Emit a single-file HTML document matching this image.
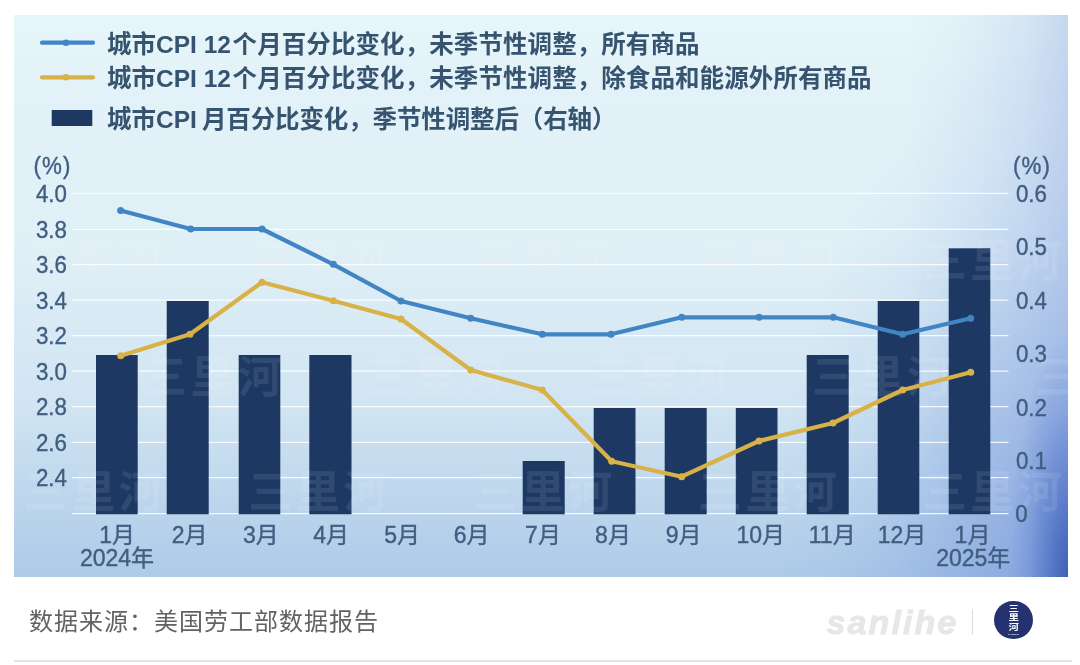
<!DOCTYPE html>
<html lang="zh-CN">
<head>
<meta charset="utf-8">
<title>城市CPI</title>
<style>
html,body{margin:0;padding:0;background:#fff;}
body{width:1080px;height:665px;overflow:hidden;position:relative;font-family:"Liberation Sans", "Noto Sans CJK SC", sans-serif;}
#panel{position:absolute;left:13.5px;top:15px;width:1054.5px;height:561.8px;
background:
 radial-gradient(ellipse 58px 240px at 100% 100%, rgba(58,90,180,0.92) 0%, rgba(66,100,190,0.6) 35%, rgba(80,118,203,0.25) 70%, rgba(90,128,210,0) 100%),
 radial-gradient(ellipse 290px 540px at 100% 100%, rgba(100,135,215,0.55) 0%, rgba(102,138,216,0.45) 20%, rgba(106,142,217,0.32) 40%, rgba(112,150,220,0.18) 60%, rgba(122,158,224,0.07) 80%, rgba(130,165,225,0) 100%),
 linear-gradient(to right, rgba(165,185,230,0) 0%, rgba(165,185,230,0) 85%, rgba(165,185,230,0.1) 91%, rgba(165,185,230,0.27) 96%, rgba(165,185,230,0.5) 100%),
 linear-gradient(to bottom, #e6f6f9 0%, #e2f2f8 12%, #e0f0f7 40%, #d0e4f2 70%, #adcae8 100%);}
svg{position:absolute;left:0;top:0;}
text{font-family:"Liberation Sans", "Noto Sans CJK SC", sans-serif;text-spacing-trim:space-all;}
.ax{font-size:23.6px;fill:#415e80;stroke:#415e80;stroke-width:0.4px;transform-box:fill-box;transform-origin:50% 50%;transform:scaleX(0.945);}
.xl{font-size:23px;transform:none;}
.lg{font-size:24.5px;font-weight:700;fill:#36546f;}
.wm{font-size:44px;font-weight:700;fill:#fff;fill-opacity:0.095;letter-spacing:3.5px;}
#src{position:absolute;left:29px;top:604px;font-size:24px;letter-spacing:1px;color:#626262;line-height:36px;white-space:nowrap;}
#brand{position:absolute;left:826.5px;top:603px;font-size:34px;line-height:38px;font-weight:700;font-style:italic;color:#e7e7e7;-webkit-text-stroke:0.9px #e7e7e7;letter-spacing:2.1px;white-space:nowrap;}
#sep{position:absolute;left:972px;top:609px;width:1px;height:26px;background:#dcdcdc;}
#logo{position:absolute;left:994.3px;top:600.9px;width:38.6px;height:38.6px;border-radius:50%;background:#25326f;}
#logo span{position:absolute;left:0;width:38.6px;text-align:center;color:#fff;font-size:10.4px;line-height:9px;font-weight:700;transform:scaleY(0.78);}
#logo span.t{font-size:2.4px;line-height:3px;top:32.4px;font-weight:700;letter-spacing:0;transform:none;}
#rule{position:absolute;left:14.4px;top:659.9px;width:1057.6px;height:2px;background:#e4e4e4;}
</style>
</head>
<body>
<div id="panel"></div>
<svg width="1080" height="665" viewBox="0 0 1080 665">

<g stroke="#ffffff" stroke-opacity="0.85" stroke-width="1.25">
<line x1="72" x2="1008.5" y1="193.3" y2="193.3"/>
<line x1="72" x2="1008.5" y1="229.3" y2="229.3"/>
<line x1="72" x2="1008.5" y1="264.5" y2="264.5"/>
<line x1="72" x2="1008.5" y1="300.0" y2="300.0"/>
<line x1="72" x2="1008.5" y1="335.5" y2="335.5"/>
<line x1="72" x2="1008.5" y1="371.0" y2="371.0"/>
<line x1="72" x2="1008.5" y1="406.5" y2="406.5"/>
<line x1="72" x2="1008.5" y1="442.3" y2="442.3"/>
<line x1="72" x2="1008.5" y1="477.5" y2="477.5"/>
<line x1="72" x2="1008.5" y1="513.5" y2="513.5"/>
</g>
<g fill="#1c3863">
<rect x="96.0" y="355.0" width="41.7" height="159.3"/>
<rect x="166.7" y="301.0" width="42.0" height="213.3"/>
<rect x="238.7" y="355.0" width="41.6" height="159.3"/>
<rect x="309.3" y="355.0" width="42.2" height="159.3"/>
<rect x="522.7" y="461.0" width="42.0" height="53.3"/>
<rect x="593.7" y="408.0" width="41.8" height="106.3"/>
<rect x="664.7" y="408.0" width="42.0" height="106.3"/>
<rect x="735.8" y="408.0" width="41.7" height="106.3"/>
<rect x="806.7" y="355.0" width="42.0" height="159.3"/>
<rect x="877.7" y="301.0" width="41.6" height="213.3"/>
<rect x="948.7" y="248.3" width="41.6" height="266.0"/>
</g>
<defs><clipPath id="pc"><rect x="13.5" y="15" width="1054.5" height="561.8"/></clipPath></defs>
<g clip-path="url(#pc)">
<text class="wm" x="23.8" y="508.0">三里河</text>
<text class="wm" x="248.5" y="508.0">三里河</text>
<text class="wm" x="473.3" y="508.0">三里河</text>
<text class="wm" x="698.0" y="508.0">三里河</text>
<text class="wm" x="922.8" y="508.0">三里河</text>
<text class="wm" x="143.0" y="392.5">三里河</text>
<text class="wm" x="366.0" y="392.5">三里河</text>
<text class="wm" x="589.5" y="392.5">三里河</text>
<text class="wm" x="812.0" y="392.5">三里河</text>
<text class="wm" x="1035.0" y="392.5">三里河</text>
<text class="wm" x="23.8" y="277.0">三里河</text>
<text class="wm" x="248.5" y="277.0">三里河</text>
<text class="wm" x="473.3" y="277.0">三里河</text>
<text class="wm" x="698.0" y="277.0">三里河</text>
<text class="wm" x="922.8" y="277.0">三里河</text>
</g>
<polyline fill="none" stroke="#d8b247" stroke-width="4.2" stroke-linejoin="round" stroke-linecap="round" points="120.7,355.7 190.0,334.3 262.0,282.3 333.3,300.7 401.0,319.0 470.7,370.0 542.3,390.0 611.7,461.3 681.7,476.7 759.0,441.0 833.0,423.0 902.7,390.0 970.7,372.3"/>
<circle cx="120.7" cy="355.7" r="3.5" fill="#d8b247"/>
<circle cx="190.0" cy="334.3" r="3.5" fill="#d8b247"/>
<circle cx="262.0" cy="282.3" r="3.5" fill="#d8b247"/>
<circle cx="333.3" cy="300.7" r="3.5" fill="#d8b247"/>
<circle cx="401.0" cy="319.0" r="3.5" fill="#d8b247"/>
<circle cx="470.7" cy="370.0" r="3.5" fill="#d8b247"/>
<circle cx="542.3" cy="390.0" r="3.5" fill="#d8b247"/>
<circle cx="611.7" cy="461.3" r="3.5" fill="#d8b247"/>
<circle cx="681.7" cy="476.7" r="3.5" fill="#d8b247"/>
<circle cx="759.0" cy="441.0" r="3.5" fill="#d8b247"/>
<circle cx="833.0" cy="423.0" r="3.5" fill="#d8b247"/>
<circle cx="902.7" cy="390.0" r="3.5" fill="#d8b247"/>
<circle cx="970.7" cy="372.3" r="3.5" fill="#d8b247"/>
<polyline fill="none" stroke="#4285c4" stroke-width="4.2" stroke-linejoin="round" stroke-linecap="round" points="120.6,210.5 190.7,229.0 262.0,229.0 333.3,264.3 401.0,301.0 470.7,318.3 542.3,334.3 611.0,334.3 681.7,317.3 759.0,317.3 833.3,317.3 902.7,334.3 970.7,318.3"/>
<circle cx="120.6" cy="210.5" r="3.5" fill="#4285c4"/>
<circle cx="190.7" cy="229.0" r="3.5" fill="#4285c4"/>
<circle cx="262.0" cy="229.0" r="3.5" fill="#4285c4"/>
<circle cx="333.3" cy="264.3" r="3.5" fill="#4285c4"/>
<circle cx="401.0" cy="301.0" r="3.5" fill="#4285c4"/>
<circle cx="470.7" cy="318.3" r="3.5" fill="#4285c4"/>
<circle cx="542.3" cy="334.3" r="3.5" fill="#4285c4"/>
<circle cx="611.0" cy="334.3" r="3.5" fill="#4285c4"/>
<circle cx="681.7" cy="317.3" r="3.5" fill="#4285c4"/>
<circle cx="759.0" cy="317.3" r="3.5" fill="#4285c4"/>
<circle cx="833.3" cy="317.3" r="3.5" fill="#4285c4"/>
<circle cx="902.7" cy="334.3" r="3.5" fill="#4285c4"/>
<circle cx="970.7" cy="318.3" r="3.5" fill="#4285c4"/>
<text class="ax" x="35" y="202.0">4.0</text>
<text class="ax" x="35" y="238.0">3.8</text>
<text class="ax" x="35" y="273.2">3.6</text>
<text class="ax" x="35" y="308.7">3.4</text>
<text class="ax" x="35" y="344.2">3.2</text>
<text class="ax" x="35" y="379.7">3.0</text>
<text class="ax" x="35" y="415.2">2.8</text>
<text class="ax" x="35" y="451.0">2.6</text>
<text class="ax" x="35" y="486.2">2.4</text>
<text class="ax" x="1015" y="202.0">0.6</text>
<text class="ax" x="1015" y="255.4">0.5</text>
<text class="ax" x="1015" y="308.8">0.4</text>
<text class="ax" x="1015" y="362.2">0.3</text>
<text class="ax" x="1015" y="415.6">0.2</text>
<text class="ax" x="1015" y="469.0">0.1</text>
<text class="ax" x="1015" y="522.2">0</text>
<text class="ax" x="32.5" y="174" letter-spacing="1.1">(%)</text>
<text class="ax" x="1012" y="174" letter-spacing="1.1">(%)</text>
<text class="ax xl" text-anchor="middle" x="117.2" y="543.4">1月</text>
<text class="ax xl" text-anchor="middle" x="189.7" y="543.4">2月</text>
<text class="ax xl" text-anchor="middle" x="260.8" y="543.4">3月</text>
<text class="ax xl" text-anchor="middle" x="331.2" y="543.4">4月</text>
<text class="ax xl" text-anchor="middle" x="402.2" y="543.4">5月</text>
<text class="ax xl" text-anchor="middle" x="471.7" y="543.4">6月</text>
<text class="ax xl" text-anchor="middle" x="543.0" y="543.4">7月</text>
<text class="ax xl" text-anchor="middle" x="613.0" y="543.4">8月</text>
<text class="ax xl" text-anchor="middle" x="683.7" y="543.4">9月</text>
<text class="ax xl" text-anchor="middle" x="760.8" y="543.4">10月</text>
<text class="ax xl" text-anchor="middle" x="832.2" y="543.4">11月</text>
<text class="ax xl" text-anchor="middle" x="902.0" y="543.4">12月</text>
<text class="ax xl" text-anchor="middle" x="972.5" y="543.4">1月</text>
<text class="ax xl" text-anchor="middle" x="117" y="566.3">2024年</text>
<text class="ax xl" text-anchor="middle" x="973.3" y="566.3">2025年</text>
<line x1="42" x2="93" y1="42.7" y2="42.7" stroke="#4285c4" stroke-width="4.2" stroke-linecap="round"/><circle cx="66" cy="42.7" r="3.3" fill="#4285c4"/>
<line x1="42" x2="93" y1="77.3" y2="77.3" stroke="#d8b247" stroke-width="4.2" stroke-linecap="round"/><circle cx="66" cy="77.3" r="3.3" fill="#d8b247"/>
<rect x="51.7" y="110" width="40.6" height="16" fill="#1c3863"/>
<text class="lg" x="107" y="52.5">城市CPI 12<tspan dx="1.7" letter-spacing="0.08">个月百分比变化，未季节性调整，所有商品</tspan></text>
<text class="lg" x="107" y="87">城市CPI 12<tspan dx="1.7" letter-spacing="0.08">个月百分比变化，未季节性调整，除食品和能源外所有商品</tspan></text>
<text class="lg" x="107" y="128">城市CPI <tspan dx="-1.7" letter-spacing="-0.13">月百分比变化，季节性调整后（右轴）</tspan></text>
</svg>
<div id="src">数据来源：美国劳工部数据报告</div>
<div id="brand">sanlihe</div>
<div id="sep"></div>
<div id="logo"><span style="top:3px">三</span><span style="top:12.3px">里</span><span style="top:21.7px">河</span><span class="t">SANLIHE</span></div>
<div id="rule"></div>
</body>
</html>
